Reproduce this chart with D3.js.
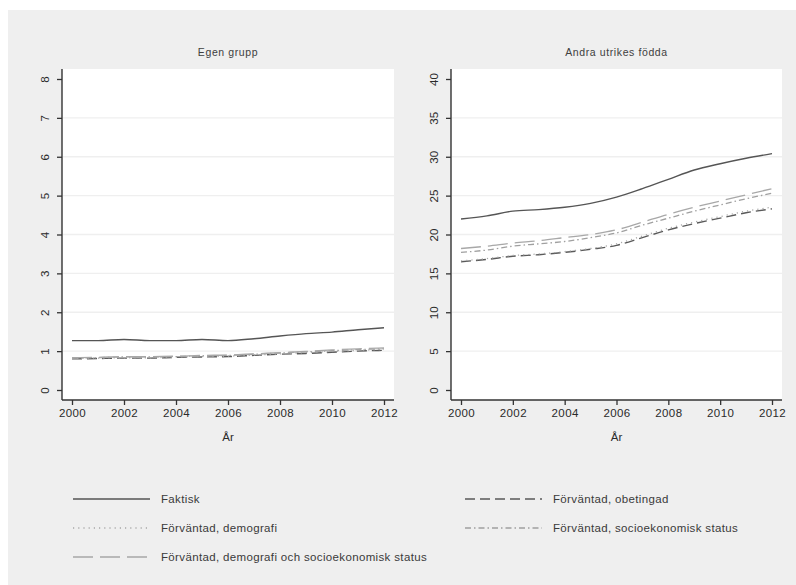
<!DOCTYPE html>
<html><head><meta charset="utf-8">
<script src="https://cdn.jsdelivr.net/npm/d3@7"></script>
<style>body{margin:0;background:#fff;}svg{display:block;font-family:"Liberation Sans",Arial,sans-serif;}</style>
</head><body><svg id="c" width="796" height="585"></svg>
<script>
const years = [2000,2001,2002,2003,2004,2005,2006,2007,2008,2009,2010,2011,2012];
const xTicks = [2000,2002,2004,2006,2008,2010,2012];
const panelTitles = ["Egen grupp","Andra utrikes födda"];
const seriesNames = ["Faktisk","Förväntad, obetingad","Förväntad, demografi","Förväntad, socioekonomisk status","Förväntad, demografi och socioekonomisk status"];
// Egen grupp
const egenFaktisk   = [1.27,1.27,1.30,1.27,1.27,1.30,1.27,1.32,1.39,1.45,1.49,1.55,1.60];
const egenObeting   = [0.80,0.81,0.82,0.82,0.84,0.85,0.86,0.89,0.92,0.94,0.97,1.00,1.02];
const egenDemo      = [0.81,0.82,0.83,0.83,0.85,0.86,0.87,0.90,0.93,0.96,0.99,1.02,1.04];
const egenSocio     = [0.82,0.83,0.85,0.85,0.86,0.88,0.89,0.92,0.95,0.98,1.01,1.04,1.06];
const egenDemoSocio = [0.83,0.84,0.86,0.86,0.87,0.89,0.90,0.93,0.96,0.99,1.03,1.06,1.08];
const egenYTicks = [0,1,2,3,4,5,6,7,8];
// Andra utrikes födda
const andraFaktisk   = [22.0,22.4,23.0,23.2,23.5,24.0,24.8,25.9,27.1,28.3,29.1,29.8,30.4];
const andraObeting   = [16.5,16.8,17.2,17.4,17.7,18.1,18.6,19.6,20.6,21.4,22.1,22.8,23.3];
const andraDemo      = [16.6,16.9,17.3,17.5,17.8,18.2,18.8,19.8,20.8,21.6,22.3,23.0,23.5];
const andraSocio     = [17.7,18.0,18.5,18.8,19.1,19.6,20.2,21.2,22.1,23.0,23.8,24.6,25.3];
const andraDemoSocio = [18.2,18.5,18.9,19.2,19.6,20.0,20.6,21.6,22.6,23.5,24.3,25.1,25.9];
const andraYTicks = [0,5,10,15,20,25,30,35,40];

const styles = [
  {color:"#555555", dash:null, w:1.4},
  {color:"#5a5a5a", dash:"10,5", w:1.4},
  {color:"#a8a8a8", dash:"1.2,4", w:1.3},
  {color:"#a0a0a0", dash:"6,3,1.5,3", w:1.3},
  {color:"#a8a8a8", dash:"20,7", w:1.3}
];

const svg = d3.select("#c");
svg.append("rect").attr("x",8).attr("y",10).attr("width",788).attr("height",575).attr("fill","#efefef");

const panels = [
  {title:panelTitles[0], left:62, right:394, yMax:8, yTicks:egenYTicks, series:[egenFaktisk,egenObeting,egenDemo,egenSocio,egenDemoSocio]},
  {title:panelTitles[1], left:451, right:782, yMax:40, yTicks:andraYTicks, series:[andraFaktisk,andraObeting,andraDemo,andraSocio,andraDemoSocio]}
];
const plotTop=69, plotBottom=400;

panels.forEach(p=>{
  const g = svg.append("g");
  g.append("rect").attr("x",p.left).attr("y",plotTop).attr("width",p.right-p.left).attr("height",plotBottom-plotTop).attr("fill","#fff");
  const x = d3.scaleLinear().domain([2000,2012]).range([p.left+10,p.right-10]);
  const y = d3.scaleLinear().domain([0,p.yMax]).range([plotBottom-10,plotTop+10]);
  g.selectAll(".grid").data(p.yTicks.slice(1,-1)).join("line")
    .attr("x1",p.left+1).attr("x2",p.right).attr("y1",d=>y(d)).attr("y2",d=>y(d))
    .attr("stroke","#efefef").attr("stroke-width",1.3);
  g.append("text").attr("x",(p.left+p.right)/2).attr("y",56).attr("text-anchor","middle")
    .attr("font-size",10.5).attr("letter-spacing",0.6).attr("fill","#404040").text(p.title);
  const line = d3.line().x((d,i)=>x(years[i])).y(d=>y(d)).curve(d3.curveMonotoneX);
  p.series.forEach((s,k)=>{
    g.append("path").datum(s).attr("d",line).attr("fill","none")
      .attr("stroke",styles[k].color).attr("stroke-width",styles[k].w)
      .attr("stroke-dasharray",styles[k].dash);
  });
  const ya = g.append("g").attr("transform",`translate(${p.left},0)`)
    .call(d3.axisLeft(y).tickValues(p.yTicks).tickSize(5).tickPadding(6).tickSizeOuter(0));
  ya.select(".domain").attr("d",`M0,${plotTop}V${plotBottom}`).attr("stroke","#333").attr("stroke-width",1.4);
  ya.selectAll(".tick line").attr("stroke","#333").attr("stroke-width",1.3);
  ya.selectAll(".tick text").attr("font-size",11.5).attr("fill","#2a2a2a").attr("font-family","'Liberation Sans',Arial,sans-serif")
    .attr("x",0).attr("y",0).attr("dy",null).attr("text-anchor","middle")
    .attr("transform","translate(-13,0) rotate(-90)");
  const xa = g.append("g").attr("transform",`translate(0,${plotBottom})`)
    .call(d3.axisBottom(x).tickValues(xTicks).tickFormat(d3.format("d")).tickSize(5).tickPadding(4).tickSizeOuter(0));
  xa.select(".domain").attr("d",`M${p.left},0H${p.right}`).attr("stroke","#333").attr("stroke-width",1.4);
  xa.selectAll(".tick line").attr("stroke","#333").attr("stroke-width",1.3);
  xa.selectAll(".tick text").attr("font-size",11.5).attr("fill","#2a2a2a").attr("font-family","'Liberation Sans',Arial,sans-serif").attr("letter-spacing",0.4);
  g.append("text").attr("x",(x(2000)+x(2012))/2).attr("y",441).attr("text-anchor","middle")
    .attr("font-size",11.5).attr("fill","#2a2a2a").text("År");
});

const legendPos = [
  {x:73, y:499},{x:465, y:499},{x:73, y:528},{x:465, y:528},{x:73, y:557}
];
const lg = svg.append("g");
seriesNames.forEach((name,k)=>{
  const pos = legendPos[k];
  lg.append("line").attr("x1",pos.x).attr("x2",pos.x+77).attr("y1",pos.y).attr("y2",pos.y)
    .attr("stroke",styles[k].color).attr("stroke-width",styles[k].w).attr("stroke-dasharray",styles[k].dash);
  lg.append("text").attr("x",pos.x+88).attr("y",pos.y+4).attr("font-size",11.5).attr("fill","#3a3a3a")
    .attr("letter-spacing",0.35).text(name);
});
</script></body></html>
